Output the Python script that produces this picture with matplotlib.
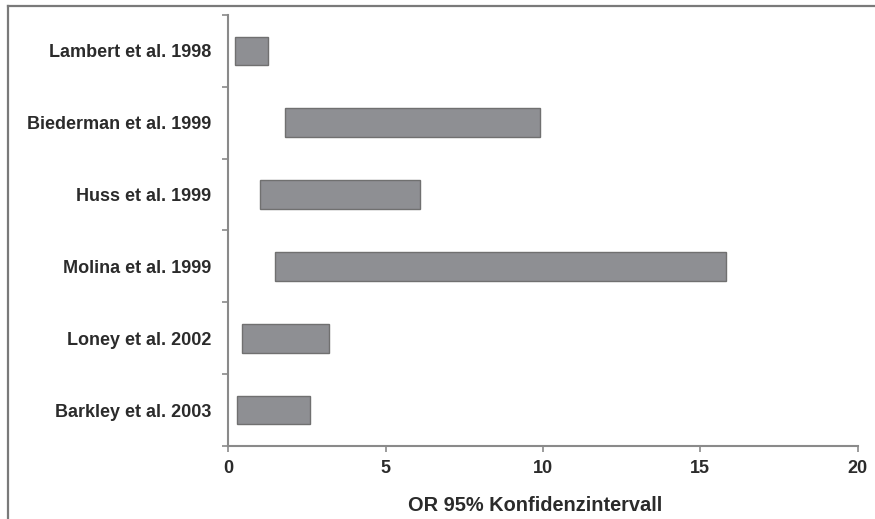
import matplotlib
matplotlib.use("Agg")
import matplotlib.pyplot as plt
from matplotlib.lines import Line2D

# Studies and the lower / upper bounds of the 95% confidence interval of the odds ratio
studies = ["Lambert et al. 1998", "Biederman et al. 1999", "Huss et al. 1999",
           "Molina et al. 1999", "Loney et al. 2002", "Barkley et al. 2003"]
ci_lower = [0.2, 1.8, 1.0, 1.5, 0.45, 0.27]
ci_upper = [1.25, 9.9, 6.1, 15.8, 3.2, 2.6]
x_ticks = [0, 5, 10, 15, 20]
x_label = "OR 95% Konfidenzintervall"

plt.rcParams["font.family"] = ["Liberation Sans", "DejaVu Sans"]
plt.rcParams["font.weight"] = "bold"

text_color = "#2b2b2b"
axis_color = "#8a8a8a"

fig = plt.figure(figsize=(8.75, 5.19), dpi=100)
ax = fig.add_axes([0.2609, 0.1407, 0.7193, 0.8304])

n = len(studies)
ypos = list(range(n))
widths = [hi - lo for lo, hi in zip(ci_lower, ci_upper)]
ax.barh(ypos, widths, left=ci_lower, height=0.40,
        color="#8e8f93", edgecolor="#707070", linewidth=1.0)

ax.set_xlim(0, 20)
ax.set_ylim(n - 0.5, -0.5)
ax.set_xticks(x_ticks)
ax.set_xticklabels([str(t) for t in x_ticks], fontsize=13,
                   fontweight="bold", color=text_color)

# category labels centred on the bars, tick marks on the boundaries
ax.set_yticks([i - 0.5 for i in range(n + 1)])
ax.set_yticklabels([])
ax.set_yticks(ypos, minor=True)
ax.set_yticklabels(studies, minor=True, fontsize=13,
                   fontweight="bold", color=text_color)
ax.tick_params(axis="y", which="minor", length=0, pad=12)
ax.tick_params(axis="y", which="major", length=4, width=1.2,
               color=axis_color, direction="out")
ax.tick_params(axis="x", length=4, width=1.2, color=axis_color,
               direction="out", pad=6)

for side in ("top", "right"):
    ax.spines[side].set_visible(False)
for side in ("left", "bottom"):
    ax.spines[side].set_color(axis_color)
    ax.spines[side].set_linewidth(1.5)

ax.set_xlabel(x_label, fontsize=14.4, fontweight="bold", color=text_color)
ax.xaxis.set_label_coords(0.487, -0.115)

# outer frame lines along the top and left edges of the figure
W, H = 875, 519
fig.add_artist(Line2D([7.5 / W, 1.0], [1 - 6 / H, 1 - 6 / H],
                      transform=fig.transFigure, color="#7a7a7a", linewidth=1.6))
fig.add_artist(Line2D([7.5 / W, 7.5 / W], [0.0, 1 - 6 / H],
                      transform=fig.transFigure, color="#7a7a7a", linewidth=1.6))

fig.savefig("out.png", dpi=100, facecolor="white")
